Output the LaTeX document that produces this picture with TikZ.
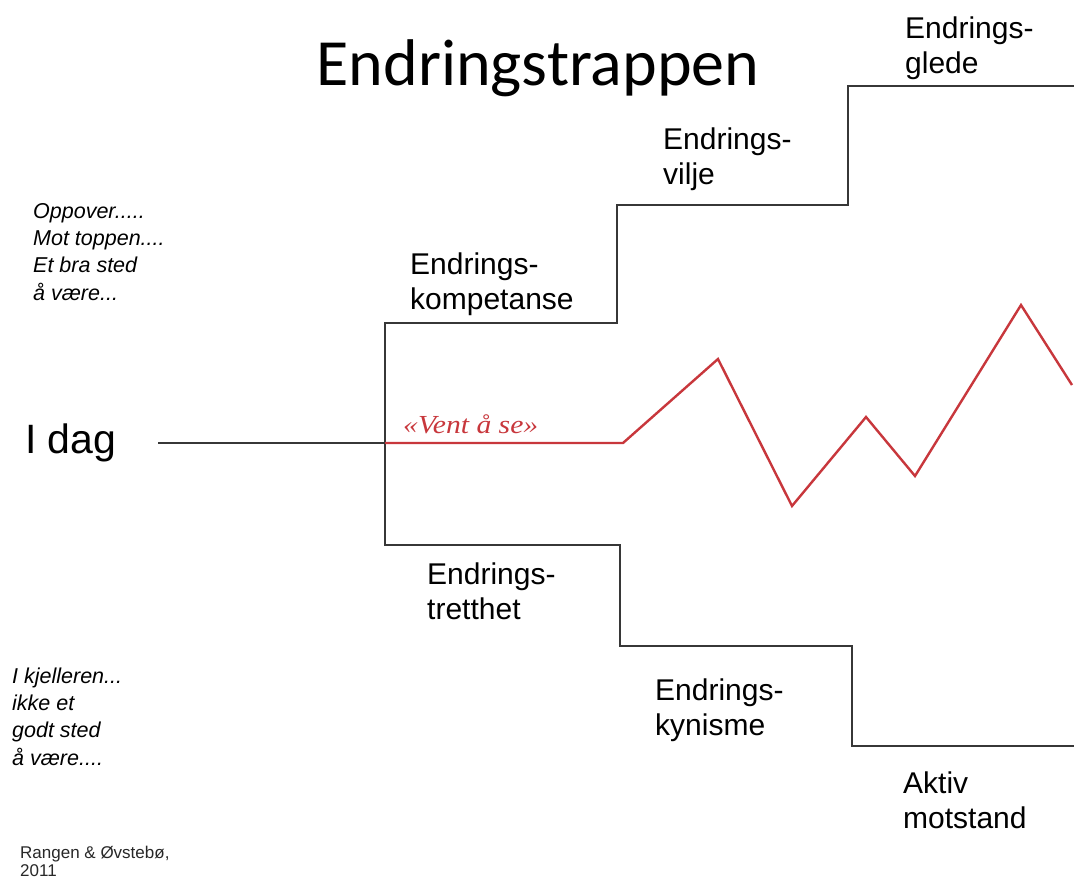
\documentclass[tikz,border=0pt]{standalone}
\usepackage{fontspec}
\setmainfont{Liberation Sans}
\newfontfamily\titlefont{Carlito}
\newfontfamily\serifit{Liberation Serif}[ItalicFont={Liberation Serif Italic}]
\begin{document}
\begin{tikzpicture}[x=1pt,y=-1pt,
  stair/.style={draw={rgb,255:red,55;green,55;blue,55},line width=1.8pt},
  zig/.style={draw={rgb,255:red,200;green,55;blue,60},line width=2.4pt,line join=miter},
  lbl/.style={anchor=base west,inner sep=0pt,font=\fontsize{30}{35}\selectfont,align=left},
  note/.style={anchor=base west,inner sep=0pt,font=\fontsize{21.5}{27.2}\selectfont\itshape,align=left}]
\useasboundingbox (0,0) rectangle (1074,879);
\fill[white] (0,0) rectangle (1074,879);

% title
\node[anchor=base,inner sep=0pt,font=\titlefont\fontsize{66}{70}\selectfont] (title) at (538,85) {Endringstrappen};

% starting point
\node[anchor=base west,inner sep=0pt,font=\fontsize{41}{45}\selectfont] (idag) at (25,453) {I dag};
\coordinate (s0) at (158,443);
\coordinate (fork) at (385,443);
\draw[stair] (s0) -- (fork);

% upper staircase
\coordinate (u0) at (385,323);
\coordinate (u1) at (617,323);
\coordinate (u2) at (617,205);
\coordinate (u3) at (848,205);
\coordinate (u4) at (848,86);
\coordinate (u5) at (1074,86);
% lower staircase
\coordinate (d0) at (385,545);
\coordinate (d1) at (620,545);
\coordinate (d2) at (620,646);
\coordinate (d3) at (852,646);
\coordinate (d4) at (852,746);
\coordinate (d5) at (1074,746);
\draw[stair] (u5) -- (u4) -- (u3) -- (u2) -- (u1) -- (u0) -- (d0) -- (d1) -- (d2) -- (d3) -- (d4) -- (d5);

% red zigzag
\coordinate (r1) at (623,443);
\coordinate (r2) at (718,359);
\coordinate (r3) at (792,506);
\coordinate (r4) at (866,417);
\coordinate (r5) at (915,476);
\coordinate (r6) at (1021,305);
\coordinate (r7) at (1072,385);
\draw[zig] (fork) -- (r1) -- (r2) -- (r3) -- (r4) -- (r5) -- (r6) -- (r7);
\node[anchor=base west,inner sep=0pt,transform shape,xscale=1.14,
      text={rgb,255:red,200;green,55;blue,60},font=\serifit\itshape\fontsize{26}{28}\selectfont] (vent) at (403,433) {«Vent å se»};

% step labels (anchored at the baseline of the last line)
\node[lbl] (glede) at (905,73) {Endrings-\\glede};
\node[lbl] (vilje) at (663,184) {Endrings-\\vilje};
\node[lbl] (komp) at (410,309) {Endrings-\\kompetanse};
\node[lbl] (trett) at (427,619) {Endrings-\\tretthet};
\node[lbl] (kyn) at (655,735) {Endrings-\\kynisme};
\node[lbl] (aktiv) at (903,828) {Aktiv\\motstand};

% side notes
\node[note] (opp) at (33,300) {Oppover.....\\Mot toppen....\\Et bra sted\\å være...};
\node[note] (kjeller) at (12,765) {I kjelleren...\\ikke et\\godt sted\\å være....};
\node[anchor=base west,inner sep=0pt,align=left,font=\fontsize{17}{17.5}\selectfont,text={rgb,255:red,40;green,40;blue,40}] (src) at (20,876) {Rangen \& Øvstebø,\\2011};
\end{tikzpicture}
\end{document}
